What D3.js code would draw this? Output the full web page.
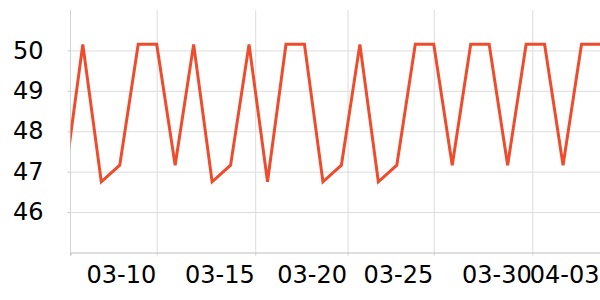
<!DOCTYPE html>
<html>
<head>
<meta charset="utf-8">
<script src="https://cdn.jsdelivr.net/npm/d3@7"></script>
<style>
  html, body { margin: 0; padding: 0; background: #fff; }
  svg { display: block; font-family: "DejaVu Sans", sans-serif; }
</style>
</head>
<body>
<div id="chart-container"></div>
<script>
// Daily values, one per date
const dates = [
  "2024-03-05", "2024-03-06", "2024-03-07", "2024-03-08", "2024-03-09", "2024-03-10",
  "2024-03-11", "2024-03-12", "2024-03-13", "2024-03-14", "2024-03-15", "2024-03-16",
  "2024-03-17", "2024-03-18", "2024-03-19", "2024-03-20", "2024-03-21", "2024-03-22",
  "2024-03-23", "2024-03-24", "2024-03-25", "2024-03-26", "2024-03-27", "2024-03-28",
  "2024-03-29", "2024-03-30", "2024-03-31", "2024-04-01", "2024-04-02", "2024-04-03"
];
const values = [
  46.75, 50.15, 46.75, 47.16, 50.15, 50.15,
  47.16, 50.15, 46.75, 47.16, 50.15, 46.75,
  50.15, 50.15, 46.75, 47.16, 50.15, 46.75,
  47.16, 50.15, 50.15, 47.16, 50.15, 50.15,
  47.16, 50.15, 50.15, 47.16, 50.15, 50.15
];

// Visible window and tick positions of the x axis
const xStart = "2024-03-05T08:00";
const xEnd = "2024-04-03T00:00";
const xTicks = [
  "2024-03-10T00:00", "2024-03-15T08:00", "2024-03-20T08:00",
  "2024-03-25T00:00", "2024-03-30T08:00", "2024-04-03T00:00"
];
const yDomain = [45, 51];
const yTicks = [46, 47, 48, 49, 50];

const width = 600;
const height = 300;
const margin = { top: 10, right: 0, bottom: 47.5, left: 70.5 };
const lineColor = "#ee4c2c";

const parseDay = d3.utcParse("%Y-%m-%d");
const parseTime = d3.utcParse("%Y-%m-%dT%H:%M");
const data = dates.map((d, i) => ({ date: parseDay(d), value: values[i] }));

const x = d3
  .scaleUtc()
  .domain([parseTime(xStart), parseTime(xEnd)])
  .range([margin.left, width - margin.right]);

const y = d3
  .scaleLinear()
  .domain(yDomain)
  .range([height - margin.bottom, margin.top]);

const svg = d3
  .create("svg")
  .attr("width", width)
  .attr("height", height)
  .attr("viewBox", [0, 0, width, height]);

document.getElementById("chart-container").appendChild(svg.node());

const innerH = height - margin.top - margin.bottom;
const innerW = width - margin.left - margin.right;

// Vertical grid lines
svg
  .append("g")
  .attr("transform", `translate(0,${height - margin.bottom})`)
  .call(
    d3.axisBottom(x)
      .tickValues(xTicks.map(parseTime))
      .tickSize(-innerH)
      .tickFormat("")
  )
  .call((g) => g.select(".domain").remove())
  .call((g) => g.selectAll("line").attr("stroke", "#dcdcdc"));

// Horizontal grid lines
svg
  .append("g")
  .attr("transform", `translate(${margin.left},0)`)
  .call(d3.axisLeft(y).tickValues(yTicks).tickSize(-innerW).tickFormat(""))
  .call((g) => g.select(".domain").remove())
  .call((g) => g.selectAll("line").attr("stroke", "#dcdcdc"));

// Left border line
svg
  .append("line")
  .attr("x1", margin.left)
  .attr("x2", margin.left)
  .attr("y1", margin.top)
  .attr("y2", height - margin.bottom + 3)
  .attr("stroke", "#d4d4d4");

// X axis
svg
  .append("g")
  .attr("transform", `translate(0,${height - margin.bottom})`)
  .call(
    d3.axisBottom(x)
      .tickValues(xTicks.map(parseTime))
      .tickSize(3)
      .tickPadding(10)
      .tickFormat(d3.utcFormat("%m-%d"))
  )
  .call((g) => g.select(".domain").attr("stroke", "#bdbdbd"))
  .call((g) => g.selectAll(".tick line").attr("stroke", "#cfcfcf"))
  .call((g) =>
    g.selectAll("text")
      .attr("font-size", 24)
      .attr("font-family", "DejaVu Sans, sans-serif")
      .attr("fill", "#000")
      .attr("text-anchor", "end")
      .attr("x", -1)
  );

// Y axis
svg
  .append("g")
  .attr("transform", `translate(${margin.left},0)`)
  .call(
    d3.axisLeft(y)
      .tickValues(yTicks)
      .tickSize(3)
      .tickPadding(24)
      .tickFormat(d3.format("d"))
  )
  .call((g) => g.select(".domain").remove())
  .call((g) => g.selectAll(".tick line").attr("stroke", "#cfcfcf"))
  .call((g) =>
    g.selectAll("text")
      .attr("font-size", 24)
      .attr("font-family", "DejaVu Sans, sans-serif")
      .attr("fill", "#000")
  );

// Clip the line to the plot area
svg
  .append("clipPath")
  .attr("id", "plot-clip")
  .append("rect")
  .attr("x", margin.left)
  .attr("y", 0)
  .attr("width", innerW)
  .attr("height", height - margin.bottom);

const line = d3
  .line()
  .x((d) => x(d.date))
  .y((d) => y(d.value));

svg
  .append("path")
  .datum(data)
  .attr("clip-path", "url(#plot-clip)")
  .attr("fill", "none")
  .attr("stroke", lineColor)
  .attr("stroke-width", 3)
  .attr("d", line);
</script>
</body>
</html>
